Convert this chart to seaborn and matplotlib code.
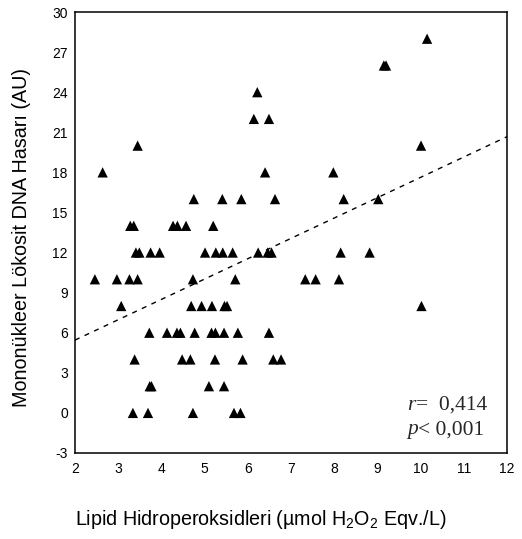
import numpy as np
import pandas as pd
import matplotlib
matplotlib.use("Agg")
import matplotlib.pyplot as plt
import seaborn as sns

# ---- data ----
lipid_x = [
    10.15,
    9.15, 9.20,
    6.22,
    6.14, 6.49,
    3.45, 10.01,
    2.64, 6.40, 7.98,
    4.75, 5.41, 5.85, 6.63, 8.22, 9.02,
    3.28, 3.36, 4.27, 4.37, 4.57, 5.20,
    3.41, 3.49, 3.75, 3.96, 5.01, 5.26, 5.42, 5.65, 6.24, 6.46, 6.55, 8.15, 8.82,
    2.46, 2.97, 3.26, 3.45, 4.73, 5.71, 7.33, 7.57, 8.11,
    3.07, 4.69, 4.93, 5.17, 5.46, 5.52, 10.02,
    3.72, 4.13, 4.36, 4.44, 4.77, 5.16, 5.25, 5.45, 5.77, 6.49,
    3.38, 4.48, 4.67, 5.24, 5.88, 6.59, 6.77,
    3.73, 3.77, 5.10, 5.45,
    3.34, 3.69, 4.73, 5.68, 5.83,
]
dna_y = [
    28,
    26, 26,
    24,
    22, 22,
    20, 20,
    18, 18, 18,
    16, 16, 16, 16, 16, 16,
    14, 14, 14, 14, 14, 14,
    12, 12, 12, 12, 12, 12, 12, 12, 12, 12, 12, 12, 12,
    10, 10, 10, 10, 10, 10, 10, 10, 10,
    8, 8, 8, 8, 8, 8, 8,
    6, 6, 6, 6, 6, 6, 6, 6, 6, 6,
    4, 4, 4, 4, 4, 4, 4,
    2, 2, 2, 2,
    0, 0, 0, 0, 0,
]
fit_x = [2, 12]
fit_y = [5.45, 20.67]
x_ticks = list(range(2, 13))
y_ticks = list(range(-3, 31, 3))
stat_names = ["r", "p"]
stat_texts = ["=  0,414", "< 0,001"]

df = pd.DataFrame({"x": lipid_x, "y": dna_y})
fit = pd.DataFrame({"x": fit_x, "y": fit_y})

sns.set_theme(style="white")
plt.rcParams["font.family"] = ["Liberation Sans", "DejaVu Sans"]
plt.rcParams["mathtext.fontset"] = "custom"
plt.rcParams["mathtext.rm"] = "Liberation Sans"
plt.rcParams["mathtext.it"] = "Liberation Sans:italic"

fig = plt.figure(figsize=(5.22, 5.39), dpi=100)
ax = fig.add_axes([75 / 522, 1 - 453 / 539, 432 / 522, 441 / 539])

sns.scatterplot(data=df, x="x", y="y", ax=ax, marker="^", s=55,
                color="black", edgecolor="none", linewidth=0, zorder=3)
sns.lineplot(data=fit, x="x", y="y", ax=ax, color="black", linewidth=1.0,
             linestyle=(0, (3.6, 4.0)), zorder=2)

ax.set_xlim(2, 12)
ax.set_ylim(-3, 30)
ax.set_xticks(x_ticks)
ax.set_yticks(y_ticks)
ax.set_xticklabels([str(t) for t in x_ticks])
ax.set_yticklabels([str(t) for t in y_ticks])
ax.set_xlabel("")
ax.set_ylabel("")
ax.tick_params(axis="both", direction="out", length=2.2, width=2.2,
               color="black", labelsize=10, labelcolor="black")
ax.tick_params(axis="x", pad=4.5)
ax.tick_params(axis="y", pad=3)
for sp in ax.spines.values():
    sp.set_visible(True)
    sp.set_color("black")
    sp.set_linewidth(1.1)
ax.grid(False)

for name, rest, ypos in zip(stat_names, stat_texts, [0.087, 0.031]):
    t = ax.text(0.769, ypos, name, transform=ax.transAxes, fontsize=15.5,
                family="Liberation Serif", style="italic",
                va="bottom", ha="left")
    ax.annotate(rest, xy=(1, 0), xycoords=t, fontsize=15.5,
                family="Liberation Serif", va="bottom", ha="left")

fig.text(0.5, 1 - 525 / 539, r"Lipid Hidroperoksidleri (µmol H$_2$O$_2$ Eqv./L)",
         ha="center", va="baseline", fontsize=14.2, color="black")
fig.text(22 / 522, 1 - 238 / 539, "Mononükleer Lökosit DNA Hasarı (AU)",
         ha="center", va="center", rotation=90, fontsize=14.2, color="black")

fig.savefig("out.png", dpi=100, facecolor="white")
